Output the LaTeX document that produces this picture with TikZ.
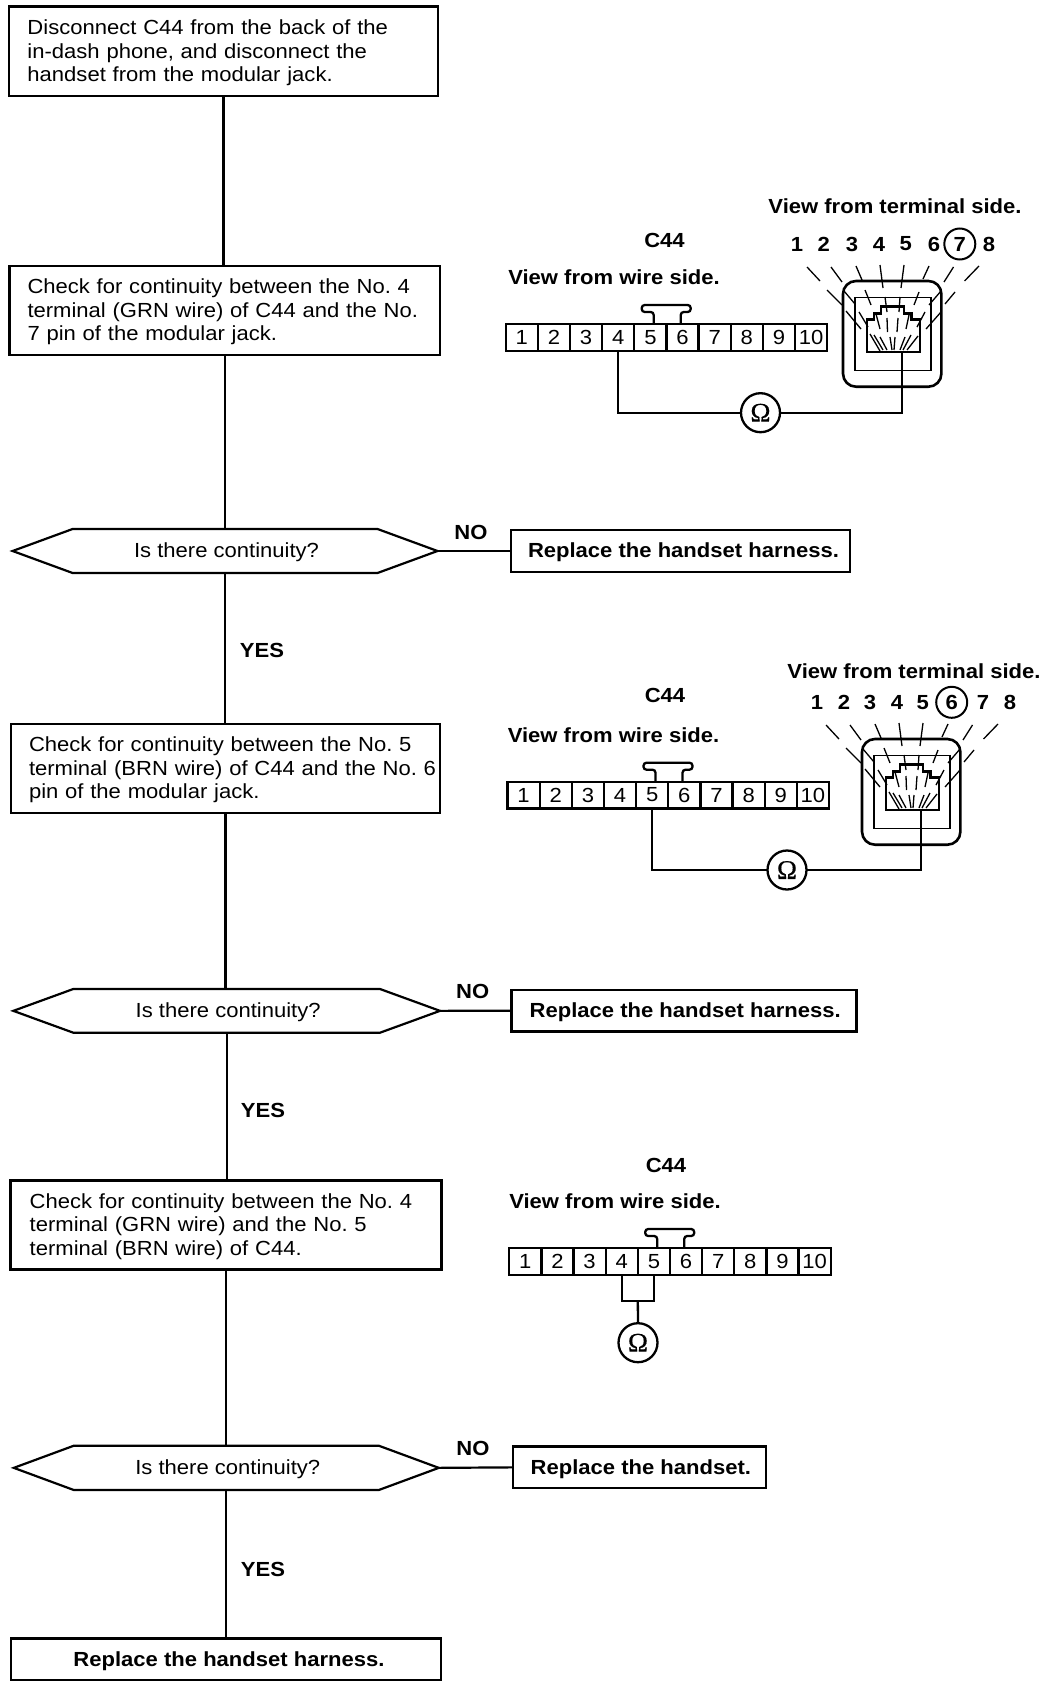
\documentclass[tikz,border=0pt]{standalone}
\usepackage{fontspec}
\setmainfont[FakeStretch=1.08]{Liberation Sans}
\newfontfamily\omfont[FakeBold=0.5]{Liberation Serif}
\usetikzlibrary{calc}
\frenchspacing
\newcommand\bodyfont{\frenchspacing\fontsize{20.4}{23.5}\selectfont}
\newcommand\boldfont{\frenchspacing\fontsize{20.4}{23.5}\selectfont\bfseries}
\newcommand\low[1]{\raisebox{-1.5pt}[\height][\depth]{#1}}
\newcommand\firstline[1]{\rule{0pt}{18pt}\hspace*{#1}}
\newcommand\nl[1]{\\\hspace*{#1}}
\tikzset{
  txtbox/.style={draw,line width=2.5pt,inner sep=0pt,outer sep=0pt,font=\bodyfont,align=left,anchor=north west},
  repbox/.style={draw,line width=2.5pt,inner sep=0pt,outer sep=0pt,font=\boldfont,anchor=north west},
  flow/.style={line width=2.2pt},
  hexa/.style={line width=2.2pt,line join=miter},
  hexnode/.style={inner sep=0pt,outer sep=0pt,font=\bodyfont,anchor=north west},
  lbl/.style={font=\boldfont,inner sep=0pt},
  cell/.style={draw,line width=2.3pt,minimum width=32.15pt,minimum height=26.7pt,inner sep=0pt,outer sep=0pt,font=\bodyfont},
  wire/.style={line width=2.3pt},
  ohm/.style={draw,circle,line width=2.3pt,minimum size=39pt,inner sep=0pt,outer sep=0pt,font=\omfont\fontsize{27}{27}\selectfont},
  pin/.style={font=\boldfont,inner sep=0pt},
  pinring/.style={font=\boldfont,inner sep=0pt,draw,circle,line width=2pt,minimum size=31pt},
  jackouter/.style={line width=2.6pt},
  jackinner/.style={line width=1.2pt},
  jackplug/.style={line width=2.4pt,line join=miter},
  ray/.style={line width=1.3pt}
}
% hexagon decision: a plain node with the outline drawn round it
\newcommand\hexdec[7]{% name, left, top, right, bottom, chamfer, text
  \node[hexnode,minimum width={#4-#2},minimum height={#5-#3}] (#1) at (#2,#3) {\low{\hspace*{3pt}#7}};
  \draw[hexa] (#1.west) -- ($(#1.north west)+(#6,0)$) -- ($(#1.north east)+(-#6,0)$) -- (#1.east)
     -- ($(#1.south east)+(-#6,0)$) -- ($(#1.south west)+(#6,0)$) -- cycle;
}
\newcommand\cstrip[3]{% prefix, left, top
  \foreach \i in {1,...,10}{
    \node[cell] (#1c\i) at ({#2+32.15*(\i-.5)},{#3+13.35}) {\i};
  }
  \draw[wire,rounded corners=3pt] ({#2+148},#3) -- ({#2+148},{#3-12}) -- ({#2+136},{#3-12}) -- ({#2+136},{#3-19})
     -- ({#2+185},{#3-19}) -- ({#2+185},{#3-12}) -- ({#2+175},{#3-12}) -- ({#2+175},#3);
}
\newcommand\jackbody[1]{%
  \draw[jackouter,rounded corners=13pt] (843,281) rectangle (941.4,386.7);
  \draw[jackinner] (855,297.7) rectangle (931,370.7);
  \draw[jackplug] (867,352.2) -- (867,319.5) -- (874,319.5) -- (874,313.5) -- (881,313.5) -- (881,306.5)
     -- (904,306.5) -- (904,313.5) -- (911.5,313.5) -- (911.5,319.5) -- (920,319.5) -- (920,352.2) -- cycle;
  \foreach \a/\b/\c/\d in {
    807/267/820/281, 827/290/842/305, 846/311/861/329, 870/334/880/351,
    831/267/842/282, 844/291/855/304, 859/312/868/327, 874/335/883/350,
    856/266/862/280, 865/290/871/305, 876/314/880/329, 880/337/887/350,
    880/265/883/288, 885/297/887/312, 887/318/887.5/332, 890/337/892/350,
    904/265/901/288, 900/297/899/312, 898/318/897/332, 895/337/894/350,
    929/266/923/279, 919/292/914/305, 909/315/906/329, 905/337/900/350,
    953.5/267/944/282, 941/291/929/305, 925/312/917/327, 911/335/903/350,
    979/266/964.5/281, 955/292/945/304, 941/312/926/329, 918/336/907/350}{
    \draw[ray] (\a,\b) -- (\c,\d);
  }
  \coordinate (#1) at (901.7,352.2);
}
\begin{document}
\begin{tikzpicture}[x=1pt,y=-1pt]
\useasboundingbox (0,0) rectangle (1056,1688);
\fill[white] (0,0) rectangle (1056,1688);

% ---- flow column
\node[txtbox,text width=429pt,minimum height=89.5pt] (b1) at (9,6.5) {\firstline{18.5pt}Disconnect C44 from the back of the\nl{18.5pt}in-dash phone, and disconnect the\nl{18.5pt}handset from the modular jack.};
\node[txtbox,text width=430.5pt,minimum height=89pt] (b2) at (9.5,266) {\firstline{18pt}Check for continuity between the No. 4\nl{18pt}terminal (GRN wire) of C44 and the No.\nl{18pt}7 pin of the modular jack.};
\hexdec{d1}{12.6}{529}{437.5}{573}{60}{Is there continuity?}
\node[repbox,minimum width=339pt,minimum height=42pt] (r1) at (511,530) {\low{\hspace*{6pt}Replace the handset harness.}};
\node[txtbox,text width=429pt,minimum height=89pt] (b3) at (11,724) {\firstline{18pt}Check for continuity between the No. 5\nl{18pt}terminal (BRN wire) of C44 and the No. 6\nl{18pt}pin of the modular jack.};
\hexdec{d2}{13.3}{989}{440}{1032.7}{60}{Is there continuity?}
\node[repbox,minimum width=345pt,minimum height=41.5pt] (r2) at (511.7,990) {\low{\hspace*{2pt}Replace the handset harness.}};
\node[txtbox,text width=431pt,minimum height=88.6pt] (b4) at (10.7,1180.7) {\firstline{19pt}Check for continuity between the No. 4\nl{19pt}terminal (GRN wire) and the No. 5\nl{19pt}terminal (BRN wire) of C44.};
\hexdec{d3}{13.8}{1445.7}{438.8}{1490}{60}{Is there continuity?}
\node[repbox,minimum width=253.2pt,minimum height=41.3pt] (r3) at (512.8,1446.7) {\low{\hspace*{3pt}Replace the handset.}};
\node[repbox,minimum width=430pt,minimum height=41.3pt] (r4) at (11,1638.7) {\low{\hspace*{6pt}Replace the handset harness.}};

\draw[flow] (b1.south) -- (b1.south |- b2.north);
\draw[flow] (b2.south) -- (b2.south |- d1.north);
\draw[flow] (d1.south) -- (d1.south |- b3.north);
\draw[flow] (b3.south) -- (b3.south |- d2.north);
\draw[flow] (d2.south) -- (d2.south |- b4.north);
\draw[flow] (b4.south) -- (b4.south |- d3.north);
\draw[flow] (d3.south) -- (d3.south |- r4.north);
\draw[flow] (d1.east) -- (r1.west);
\draw[flow] (d2.east) -- (r2.west);
\draw[flow] (d3.east) -- (r3.west);

\node[lbl] (no1) at (471,532) {NO};
\node[lbl] (yes1) at (262,650) {YES};
\node[lbl] (no2) at (472.7,991.7) {NO};
\node[lbl] (yes2) at (263,1110) {YES};
\node[lbl] (no3) at (473,1448) {NO};
\node[lbl] (yes3) at (263,1569) {YES};

% ---- first connector pair
\node[lbl] (t1) at (895,206) {View from terminal side.};
\node[lbl] (c1) at (664.5,240.5) {C44};
\node[lbl] (w1) at (614,277.5) {View from wire side.};
\foreach \n/\x in {1/797,2/823.8,3/852,4/879,5/905.7,6/934,8/989}{
  \node[pin] (pa\n) at (\x,244) {\n};
}
\node[pinring] (pa7) at (959.8,244) {7};
\jackbody{j1w}
\cstrip{sa}{505.7}{324}
\node[ohm] (oa) at (760.5,412.7) {Ω};
\draw[wire] (sac4.south) |- (oa.west);
\draw[wire] (oa.east) -| (j1w);

% ---- second connector pair
\node[lbl] (t2) at (914,671.7) {View from terminal side.};
\node[lbl] (c2) at (665,695) {C44};
\node[lbl] (w2) at (613.5,735) {View from wire side.};
\foreach \n/\x in {1/817,2/844,3/870,4/897,5/922.7,7/983,8/1010}{
  \node[pin] (pb\n) at (\x,702.3) {\n};
}
\node[pinring] (pb6) at (951.7,702.3) {6};
\begin{scope}[shift={(19,458)}]
\jackbody{j2w}
\end{scope}
\cstrip{sb}{507.5}{781.7}
\node[ohm] (ob) at (787,870) {Ω};
\draw[wire] (sbc5.south) |- (ob.west);
\draw[wire] (ob.east) -| (j2w);

% ---- third connector
\node[lbl] (c3) at (666,1165) {C44};
\node[lbl] (w3) at (615,1201) {View from wire side.};
\cstrip{sc}{509.2}{1248}
\node[ohm] (oc) at (638,1342.7) {Ω};
\coordinate (tee) at ($(scc4.south)!.5!(scc5.south)+(0,26)$);
\draw[wire] (scc4.south) |- (tee) -| (scc5.south);
\draw[wire] (tee) -- (oc.north);
\end{tikzpicture}
\end{document}
